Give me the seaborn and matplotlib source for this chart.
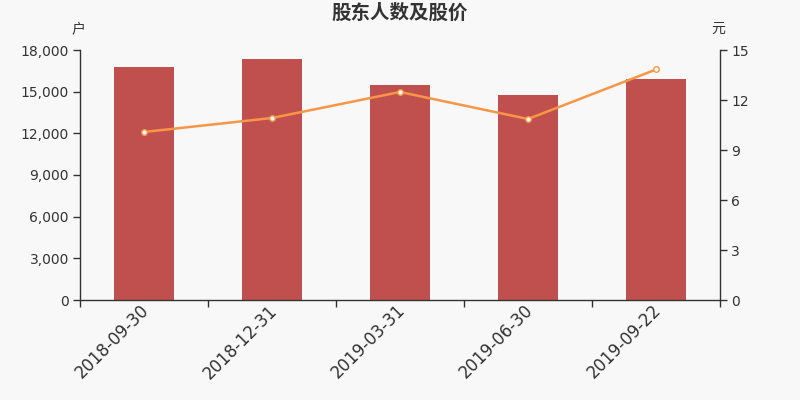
import matplotlib
matplotlib.use("Agg")
import matplotlib.pyplot as plt
from matplotlib.ticker import FuncFormatter, FixedLocator
from matplotlib.transforms import ScaledTranslation
import seaborn as sns
import pandas as pd

dates = ["2018-09-30", "2018-12-31", "2019-03-31", "2019-06-30", "2019-09-22"]
holders = [16780, 17360, 15500, 14730, 15930]
prices = [10.08, 10.92, 12.48, 10.86, 13.83]

df = pd.DataFrame({"date": dates, "holders": holders, "price": prices})

sns.set_theme(style="white")
plt.rcParams['font.family'] = ['DejaVu Sans', 'Noto Sans CJK SC']

bg = "#f8f8f8"
fig = plt.figure(figsize=(8, 4), dpi=100, facecolor=bg)
ax = fig.add_axes([0.1, 0.25, 0.8, 0.625], facecolor=bg)

sns.barplot(data=df, x="date", y="holders", color="#c0504d", saturation=1,
            width=0.47, linewidth=0, ax=ax)
ax.set_xlim(-0.5, 4.5)
ax.set_ylim(0, 18000)
ax.set_yticks(range(0, 18001, 3000))
ax.yaxis.set_major_formatter(FuncFormatter(lambda v, p: f"{int(v):,}"))
ax.set_xlabel("")
ax.set_ylabel("")

ax2 = ax.twinx()
sns.lineplot(data=df, x="date", y="price", color="#f79646", linewidth=1.8,
             marker="o", markersize=4, markerfacecolor="white",
             markeredgecolor="#f79646", markeredgewidth=1, ax=ax2)
ax2.set_ylim(0, 15)
ax2.set_yticks(range(0, 16, 3))
ax2.set_xlim(-0.5, 4.5)
ax2.set_xlabel("")
ax2.set_ylabel("")

axis_col = "#333333"
for a in (ax, ax2):
    a.spines['top'].set_visible(False)
    for s in ('left', 'right', 'bottom'):
        a.spines[s].set_color(axis_col)
        a.spines[s].set_linewidth(1)
    a.tick_params(axis='y', length=5, width=1, color=axis_col,
                  labelsize=10, labelcolor="#333333", pad=3, direction='out')
    a.grid(False)
ax.spines['right'].set_visible(False)
ax2.spines['left'].set_visible(False)
ax2.spines['bottom'].set_visible(False)
ax2.tick_params(axis='y', left=False, right=True)
ax.tick_params(axis='y', left=True)

ax.set_xticks(range(len(dates)))
ax.set_xticklabels(dates, rotation=45, ha='right', rotation_mode='anchor',
                   fontsize=12, color="#333333")
ax.xaxis.set_minor_locator(FixedLocator([i - 0.5 for i in range(len(dates) + 1)]))
ax.tick_params(axis='x', which='major', length=0, pad=1, bottom=True)
ax.tick_params(axis='x', which='minor', length=5, width=1, color=axis_col, bottom=True)
off = ScaledTranslation(-4 / 100, 0, fig.dpi_scale_trans)
for lbl in ax.get_xticklabels():
    lbl.set_transform(lbl.get_transform() + off)

fig.text(0.5, 0.967, "股东人数及股价", ha='center', va='center', fontsize=14,
         fontweight='bold', color="#333333", family=['Noto Sans CJK SC'])
fig.text(0.098, 0.928, "户", ha='center', va='center', fontsize=10,
         color="#333333", family=['Noto Sans CJK SC'])
fig.text(0.898, 0.928, "元", ha='center', va='center', fontsize=10,
         color="#333333", family=['Noto Sans CJK SC'])

fig.savefig("out.png", dpi=100, facecolor=bg)
